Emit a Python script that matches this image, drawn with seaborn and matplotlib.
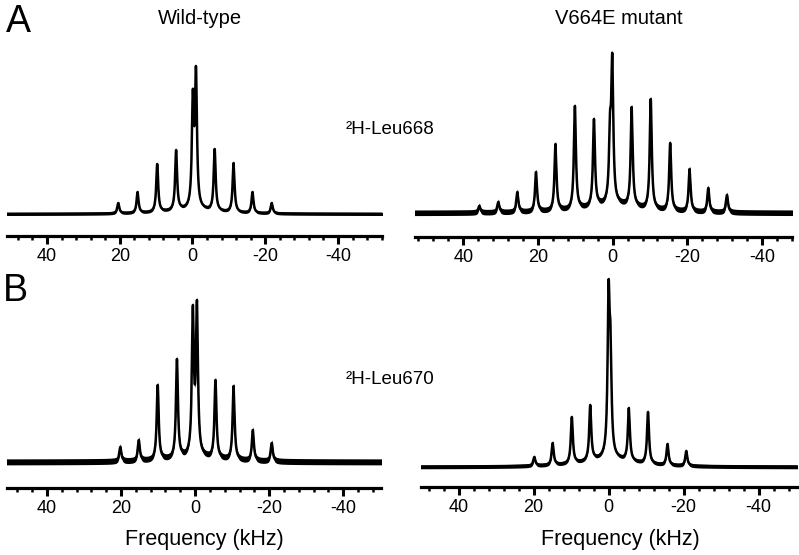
import numpy as np
import matplotlib
matplotlib.use("Agg")
import matplotlib.pyplot as plt
import seaborn as sns
from matplotlib.ticker import MultipleLocator

# ==========================================
# DATA: peak positions (kHz) and heights (a.u.)
# ==========================================
wt668_pos = [-0.1, -0.96, 4.5, -6.1, 9.7, -11.3, 15.1, -16.5, 20.4, -21.8]
wt668_amp = [125, 148, 64, 65, 50, 51, 22, 22, 11, 11]

mut668_pos = [0.7, 0.1, 5.0, -5.1, 10.1, -10.2, 15.3, -15.4, 20.5, -20.6,
              25.5, -25.6, 30.6, -30.6, 35.7]
mut668_amp = [102, 160, 94, 106, 107, 114, 69, 70, 41, 44, 21, 25, 11, 18, 7]

wt670_pos = [0.6, -0.5, 4.9, -5.5, 10.1, -10.4, 15.2, -15.6, 20.2, -20.7]
wt670_amp = [157, 162, 103, 82, 77, 76, 22, 32, 15, 19]

mut670_pos = [0.0, -0.5, 4.9, -5.4, 9.8, -10.5, 14.9, -15.7, 19.8, -20.7]
mut670_amp = [187, 143, 62, 59, 50, 55, 24, 23, 10, 16]

# broad underlying component height and baseline noise half-amplitude
broad_height = {"wt668": 4, "mut668": 8, "wt670": 4, "mut670": 8}
noise_level = {"wt668": 1.6, "mut668": 2.8, "wt670": 3.0, "mut670": 2.0}

col_titles = ["Wild-type", "V664E mutant"]
row_labels = ["A", "B"]
sample_labels = ["\u00b2H-Leu668", "\u00b2H-Leu670"]
major_ticks = [40, 20, 0, -20, -40]

# ==========================================
# LINESHAPE
# ==========================================
HWHM = 0.32
BROAD_HWHM = 8.0
freq = np.linspace(-56, 56, 5601)


def lorentz(x, x0, w):
    return 1.0 / (1.0 + ((x - x0) / w) ** 2)


def spectrum(pos, amp, broad):
    pos = np.asarray(pos, float)
    amp = np.asarray(amp, float)
    # solve so that the summed curve reaches the read heights at each peak
    target = amp - broad * lorentz(pos, 0.0, BROAD_HWHM)
    L = lorentz(pos[:, None], pos[None, :], HWHM)
    a = np.linalg.solve(L, target)
    y = broad * lorentz(freq, 0.0, BROAD_HWHM)
    for p, h in zip(pos, a):
        y = y + h * lorentz(freq, p, HWHM)
    return y


# ==========================================
# FIGURE
# ==========================================
sns.set_style("white")
plt.rcParams["font.family"] = ["Liberation Sans", "DejaVu Sans"]
plt.rcParams["text.color"] = "black"
plt.rcParams["xtick.color"] = "black"
plt.rcParams["xtick.bottom"] = True

W, H = 799, 555
fig = plt.figure(figsize=(W / 100, H / 100), dpi=100)


def px_axes(x0, x1, top, bottom):
    return fig.add_axes([x0 / W, 1 - bottom / H, (x1 - x0) / W, (bottom - top) / H])


panels = [
    # key, pos, amp, (x0, x1, top, bottom), baseline offset px, xlim
    ("wt668", wt668_pos, wt668_amp, (7, 382, 45, 236), 22, (51.0, -52.1)),
    ("mut668", mut668_pos, mut668_amp, (415, 792, 45, 237), 24, (52.9, -48.0)),
    ("wt670", wt670_pos, wt670_amp, (7, 381, 285, 488), 26, (50.8, -50.2)),
    ("mut670", mut670_pos, mut670_amp, (421, 797, 270, 487), 20, (50.0, -50.2)),
]

for key, pos, amp, box, off, xlim in panels:
    ax = px_axes(*box)
    y = spectrum(pos, amp, broad_height[key])
    n = noise_level[key]
    ax.fill_between(freq, y - n, y + n, color="black", lw=0)
    sns.lineplot(x=freq, y=y, ax=ax, color="black", lw=1.8,
                 estimator=None, sort=False)
    height_px = box[3] - box[2]
    ax.set_xlim(*xlim)
    ax.set_ylim(-off, height_px - off)
    ax.set_yticks([])
    ax.set_ylabel("")
    ax.set_xlabel("")
    for s in ["left", "right", "top"]:
        ax.spines[s].set_visible(False)
    ax.spines["bottom"].set_linewidth(2.3)
    ax.spines["bottom"].set_color("black")
    ax.set_xticks(major_ticks)
    ax.set_xticklabels([str(t) for t in major_ticks])
    ax.xaxis.set_minor_locator(MultipleLocator(4))
    ax.tick_params(axis="x", which="both", bottom=True, top=False)
    ax.tick_params(axis="x", which="major", direction="out", length=5.5,
                   width=2.2, color="black", labelsize=13, pad=3,
                   labelcolor="black")
    ax.tick_params(axis="x", which="minor", direction="out", length=3,
                   width=1.8, color="black")
    ax.patch.set_alpha(0)


def ftext(x, y, s, **kw):
    fig.text(x / W, 1 - y / H, s, ha="center", va="center", color="black", **kw)


ftext(18, 22, row_labels[0], fontsize=27)
ftext(15, 291, row_labels[1], fontsize=27)
ftext(200, 18, col_titles[0], fontsize=14.5)
ftext(619, 18, col_titles[1], fontsize=14.5)
ftext(390, 129, sample_labels[0], fontsize=13.5)
ftext(390, 380, sample_labels[1], fontsize=13.5)
ftext(204, 540, "Frequency (kHz)", fontsize=15.5)
ftext(620, 540, "Frequency (kHz)", fontsize=15.5)

fig.savefig("out.png", dpi=100)
